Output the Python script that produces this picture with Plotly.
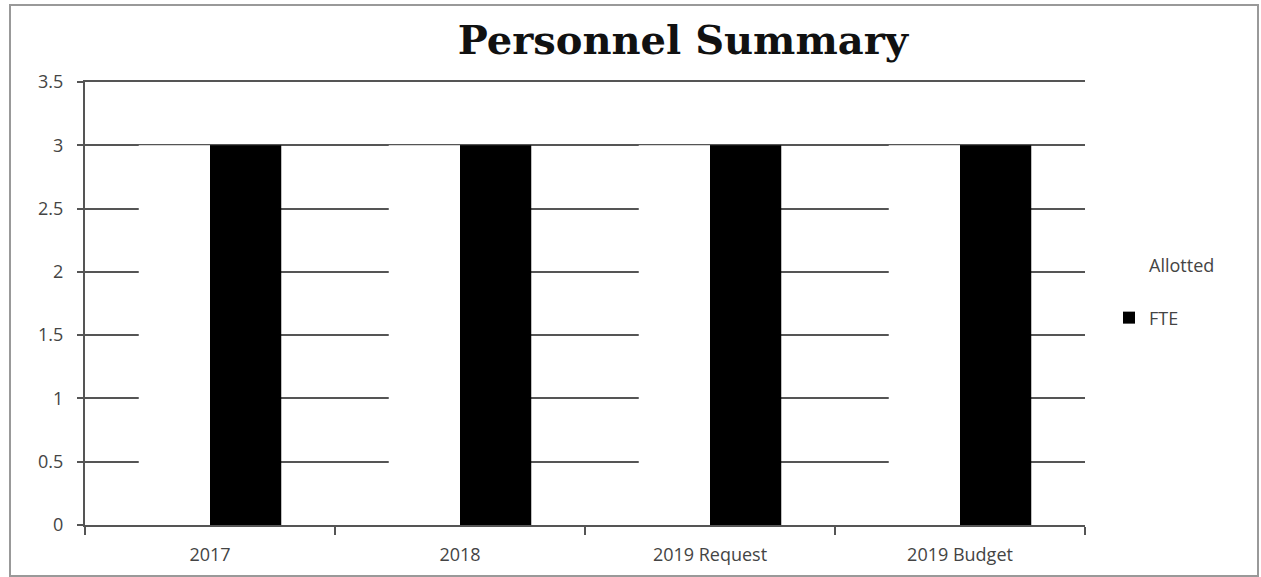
import plotly.graph_objects as go

categories = ["2017", "2018", "2019 Request", "2019 Budget"]
allotted = [3, 3, 3, 3]
fte = [3, 3, 3, 3]
y_ticks = [0, 0.5, 1, 1.5, 2, 2.5, 3, 3.5]
y_tick_labels = ["0", "0.5", "1", "1.5", "2", "2.5", "3", "3.5"]

fig = go.Figure()
fig.add_trace(go.Bar(
    x=categories, y=allotted, name="Allotted",
    marker=dict(color="white", line=dict(color="white", width=0)),
    legendgroup="a", hoverinfo="skip",
))
fig.add_trace(go.Bar(
    x=categories, y=fte, name="FTE",
    marker=dict(color="black", line=dict(width=0)),
    legendgroup="b",
))

fig.update_layout(
    width=1261, height=577,
    margin=dict(l=85, r=176, t=82, b=52, autoexpand=False),
    paper_bgcolor="white", plot_bgcolor="white",
    barmode="group", bargap=0.43, bargroupgap=0,
    title=dict(
        text="<b>Personnel Summary</b>",
        font=dict(family="DejaVu Serif, Liberation Serif, serif", size=40, color="#111"),
        x=0.5415, xanchor="center", y=0.93, yanchor="middle",
    ),
    font=dict(family="Open Sans, Liberation Sans, sans-serif", size=17, color="#444"),
    legend=dict(
        x=1.024, xanchor="left", y=0.527, yanchor="middle",
        traceorder="grouped", tracegroupgap=26,
        font=dict(size=18, color="#444"),
        itemwidth=30,
    ),
    xaxis=dict(
        type="category",
        showline=True, linecolor="#555", linewidth=2, mirror=True,
        ticks="outside", tickson="boundaries", ticklen=8, tickcolor="#555", tickwidth=2,
        showgrid=False,
        tickfont=dict(size=18, color="#444"),
        ticklabelstandoff=12,
        automargin=False,
    ),
    yaxis=dict(
        range=[0, 3.5],
        tickvals=y_ticks, ticktext=y_tick_labels,
        showline=True, linecolor="#555", linewidth=2,
        ticks="outside", ticklen=6, tickcolor="#555", tickwidth=2,
        showgrid=True, gridcolor="#555", gridwidth=2,
        zeroline=False,
        tickfont=dict(size=18, color="#444"),
        ticklabelstandoff=10,
        automargin=False,
    ),
    shapes=[dict(
        type="rect", xref="paper", yref="paper",
        x0=-0.075, x1=1.173, y0=-0.115, y1=1.174,
        line=dict(color="#999", width=2), fillcolor="rgba(0,0,0,0)", layer="below",
    )],
)

fig.write_html("out.html", config={"displayModeBar": False},
               post_script="document.body.style.margin='0';")
